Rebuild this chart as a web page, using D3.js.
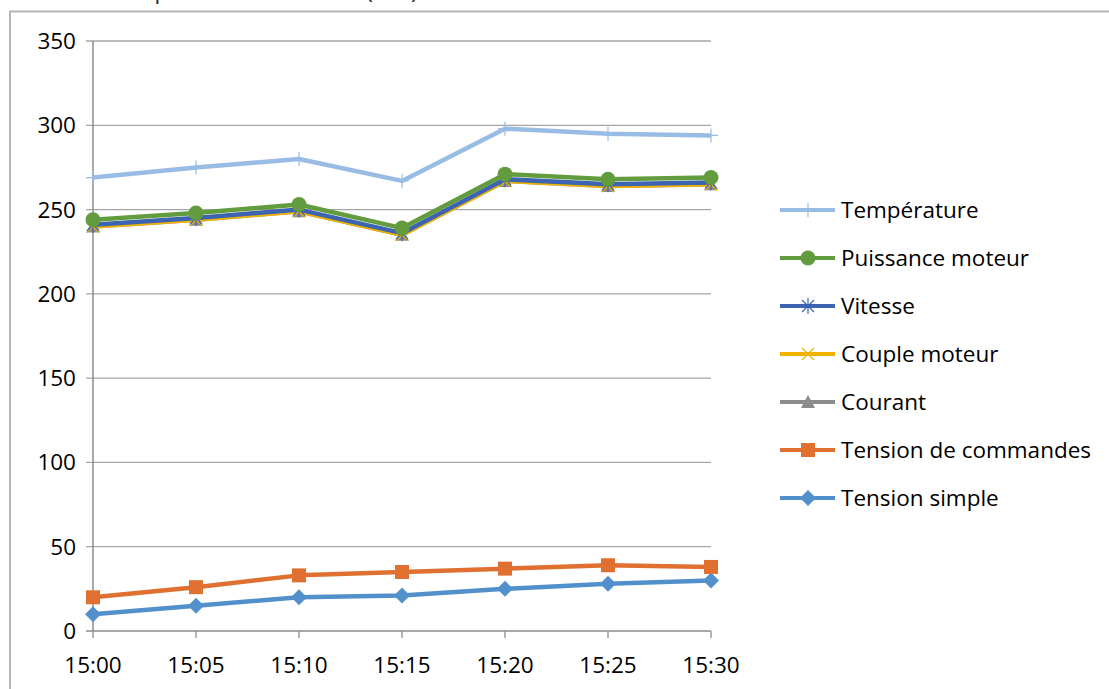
<!DOCTYPE html>
<html><head><meta charset="utf-8">
<script src="https://cdn.jsdelivr.net/npm/d3@7"></script>
<style>
body{margin:0;background:#fff;}
svg{display:block;font-family:"Open Sans","Noto Sans",sans-serif;}
</style></head>
<body><svg id="c" width="1109" height="689"></svg>
<script>
const categories = ["15:00","15:05","15:10","15:15","15:20","15:25","15:30"];
const yTicks = [0,50,100,150,200,250,300,350];
const seriesNames = ["Température","Puissance moteur","Vitesse","Couple moteur","Courant","Tension de commandes","Tension simple"];
const temperature = [269,275,280,267,298,295,294];
const puissanceMoteur = [244,248,253,239,271,268,269];
const vitesse = [241,245,250,236,268,265,266];
const coupleMoteur = [240,244,249,235,267,264,265];
const courant = [240,244,249,235,267,264,265];
const tensionCommandes = [20,26,33,35,37,39,38];
const tensionSimple = [10,15,20,21,25,28,30];
const titleText = "Évolution des paramètres moteur (u.a.)";

const series = [
  {name:seriesNames[0], values:temperature, color:"#98bce3", marker:"plus"},
  {name:seriesNames[1], values:puissanceMoteur, color:"#629c3e", marker:"circle"},
  {name:seriesNames[2], values:vitesse, color:"#3d64b0", marker:"star"},
  {name:seriesNames[3], values:coupleMoteur, color:"#f0b400", marker:"x"},
  {name:seriesNames[4], values:courant, color:"#8c8c8c", marker:"triangle"},
  {name:seriesNames[5], values:tensionCommandes, color:"#e07030", marker:"square"},
  {name:seriesNames[6], values:tensionSimple, color:"#5290cc", marker:"diamond"}
];

const FS = 22.5;
const svg = d3.select("#c");
svg.append("path").attr("d","M10,689 V11.5 H1109").attr("fill","none").attr("stroke","#b4b4b4").attr("stroke-width",2);
svg.append("text").attr("x",8).attr("y",-1).attr("font-size",FS).attr("fill","#222").text(titleText);

const x = d3.scalePoint().domain(categories).range([93,711]);
const y = d3.scaleLinear().domain([0,350]).range([631,41]);

const g = svg.append("g");
g.selectAll("line.grid").data(yTicks).join("line")
  .attr("x1",86).attr("x2",711).attr("y1",d=>y(d)).attr("y2",d=>y(d))
  .attr("stroke",d=>d===0?"#8c8c8c":"#a6a6a6").attr("stroke-width",1.3);
g.append("line").attr("x1",93).attr("x2",93).attr("y1",y(350)).attr("y2",y(0)).attr("stroke","#8c8c8c").attr("stroke-width",1.5);
g.selectAll("line.xt").data(categories).join("line")
  .attr("x1",d=>x(d)).attr("x2",d=>x(d)).attr("y1",y(0)).attr("y2",y(0)+7)
  .attr("stroke","#8c8c8c").attr("stroke-width",1.3);

svg.append("g").selectAll("text").data(yTicks).join("text")
  .attr("x",76).attr("y",d=>y(d)+8).attr("text-anchor","end").attr("font-size",FS).attr("fill","#000").text(d=>d);
svg.append("g").selectAll("text").data(categories).join("text")
  .attr("x",d=>x(d)).attr("y",673).attr("text-anchor","middle").attr("font-size",FS).attr("fill","#000").text(d=>d);

function drawMarker(sel, type, color, cx, cy){
  const gg = sel.append("g").attr("transform",`translate(${cx},${cy})`);
  if(type==="circle") gg.append("circle").attr("r",7.5).attr("fill",color);
  else if(type==="square") gg.append("rect").attr("x",-7).attr("y",-7).attr("width",14).attr("height",14).attr("fill",color);
  else if(type==="diamond") gg.append("path").attr("d","M0,-8 L8,0 L0,8 L-8,0Z").attr("fill",color);
  else if(type==="triangle") gg.append("path").attr("d","M0,-7 L7,6 L-7,6Z").attr("fill",color);
  else if(type==="plus") gg.append("path").attr("d","M-7,0H7M0,-7V7").attr("stroke",color).attr("stroke-width",1.2);
  else if(type==="x") gg.append("path").attr("d","M-6,-6L6,6M-6,6L6,-6").attr("stroke",color).attr("stroke-width",1.2);
  else if(type==="star") gg.append("path").attr("d","M-6,-6L6,6M-6,6L6,-6M0,-8V8").attr("stroke",color).attr("stroke-width",1.2);
}

const line = d3.line().x((d,i)=>x(categories[i])).y(d=>y(d));
const drawOrder = [6,5,4,3,2,1,0];
const plot = svg.append("g");
drawOrder.forEach(k=>{
  const s = series[k];
  const sg = plot.append("g");
  sg.append("path").datum(s.values).attr("d",line).attr("fill","none").attr("stroke",s.color).attr("stroke-width",4.5).attr("stroke-linejoin","round");
  s.values.forEach((v,i)=>drawMarker(sg,s.marker,s.color,x(categories[i]),y(v)));
});

const leg = svg.append("g");
series.forEach((s,i)=>{
  const ly = 210 + i*48;
  leg.append("line").attr("x1",780).attr("x2",835).attr("y1",ly).attr("y2",ly).attr("stroke",s.color).attr("stroke-width",4);
  drawMarker(leg,s.marker,s.color,808,ly);
  leg.append("text").attr("x",841).attr("y",ly+8).attr("font-size",FS).attr("fill","#000").text(s.name);
});
</script></body></html>
